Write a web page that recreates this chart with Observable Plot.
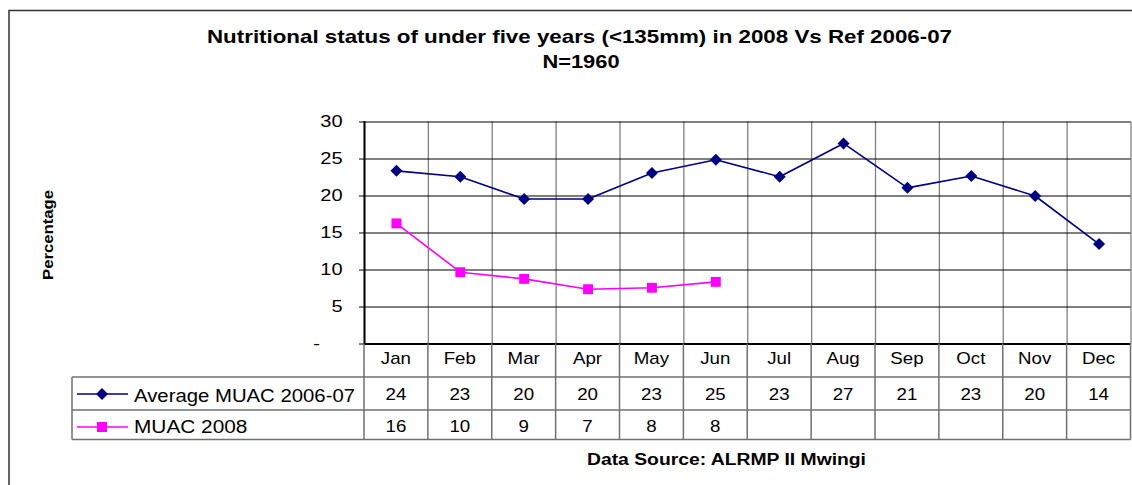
<!DOCTYPE html>
<html><head><meta charset="utf-8">
<script src="https://cdn.jsdelivr.net/npm/d3@7"></script>
<script src="https://cdn.jsdelivr.net/npm/@observablehq/plot@0.6"></script>
<style>body{margin:0;background:#fff} svg{display:block}</style>
</head><body><div id="chart"></div>
<script>
// ---- data ----
const titleText = "Nutritional status of under five years (<135mm) in 2008 Vs Ref 2006-07";
const subtitleText = "N=1960";
const yLabelText = "Percentage";
const sourceText = "Data Source: ALRMP II Mwingi";
const months = ["Jan","Feb","Mar","Apr","May","Jun","Jul","Aug","Sep","Oct","Nov","Dec"];
const avgName = "Average MUAC 2006-07";
const avgValues = [23.4, 22.6, 19.6, 19.6, 23.1, 24.9, 22.6, 27.1, 21.1, 22.7, 20.0, 13.5];
const avgTable  = [24, 23, 20, 20, 23, 25, 23, 27, 21, 23, 20, 14];
const muacName = "MUAC 2008";
const muacValues = [16.3, 9.7, 8.8, 7.4, 7.6, 8.4];
const muacTable  = [16, 10, 9, 7, 8, 8];
const yTicks = [0, 5, 10, 15, 20, 25, 30];

// ---- style ----
const NAVY = "#000080", PINK = "#FF00FF", GRID = "#808080", TBL = "#707070";
const FONT = "'Liberation Sans', Arial, sans-serif";
const W = 1132, H = 485;
const plotTop = 121.5, plotBottom = 343.5, plotLeft = 364, plotRight = 1130.5;
const rowH = 377, row1 = 410, row2 = 439.5, legLeft = 72;

const avgData = avgValues.map((v, i) => ({i, v}));
const muacData = muacValues.map((v, i) => ({i, v}));

const chart = Plot.plot({
  width: W, height: H,
  marginLeft: plotLeft, marginRight: W - plotRight, marginTop: plotTop, marginBottom: H - plotBottom,
  style: {fontFamily: FONT, fontSize: "16px", color: "#000", background: "#fff"},
  x: {type: "linear", domain: [-0.5, 11.5], axis: null},
  y: {domain: [0, 30], axis: null, label: null},
  marks: [
    Plot.ruleX(d3.range(13).map(i => i - 0.5), {y1: 0, y2: 30, stroke: GRID, strokeWidth: 1.3}),
    Plot.ruleY(yTicks.filter(d => d > 0), {stroke: "#000", strokeWidth: 1}),
    Plot.axisY(yTicks, {tickSize: 5, tickPadding: 17, tickFormat: d => d === 0 ? "" : String(d), fontSize: 16, stroke: "#000", label: null}),
    Plot.text([0], {y: d => d, frameAnchor: "left", dx: -48, text: () => "-", textAnchor: "middle", fontSize: 16}),
    Plot.ruleY([0], {stroke: "#000", strokeWidth: 2}),
    Plot.frame({anchor: "left", stroke: "#000", strokeWidth: 2}),
    Plot.line(avgData, {x: "i", y: "v", stroke: NAVY, strokeWidth: 1.6}),
    Plot.dot(avgData, {x: "i", y: "v", symbol: "diamond2", r: 5.4, fill: NAVY, stroke: "none"}),
    Plot.line(muacData, {x: "i", y: "v", stroke: PINK, strokeWidth: 1.6}),
    Plot.dot(muacData, {x: "i", y: "v", symbol: "square", r: 5.6, fill: PINK, stroke: "none"})
  ]
});
document.getElementById("chart").append(chart);

const svg = d3.select(chart);
const xs = chart.scale("x");
const X = v => xs.apply(v);
const g = svg.append("g").attr("font-family", FONT).attr("text-anchor", "start");

// outer border
g.append("rect").attr("x", 9).attr("y", 10.5).attr("width", 1300).attr("height", 700)
  .attr("fill", "none").attr("stroke", "#333").attr("stroke-width", 1.5);

const stretch = (el, k) => { const L = el.getComputedTextLength(); el.setAttribute("textLength", L * k); el.setAttribute("lengthAdjust", "spacingAndGlyphs"); };
const fitTo = (el, w) => { el.setAttribute("textLength", w); el.setAttribute("lengthAdjust", "spacingAndGlyphs"); };

// title
fitTo(g.append("text").attr("x", 579.5).attr("y", 42.7).attr("text-anchor", "middle")
  .attr("font-weight", "bold").attr("font-size", 18.5).text(titleText).node(), 745);
stretch(g.append("text").attr("x", 581).attr("y", 68).attr("text-anchor", "middle")
  .attr("font-weight", "bold").attr("font-size", 18.5).text(subtitleText).node(), 1.18);

// y label
fitTo(g.append("text").attr("transform", "translate(53,235) rotate(-90)").attr("text-anchor", "middle")
  .attr("font-weight", "bold").attr("font-size", 15).text(yLabelText).node(), 90);

// data table lines
const bounds = d3.range(13).map(i => X(i - 0.5));
bounds.forEach(b => g.append("line").attr("x1", b).attr("x2", b).attr("y1", plotBottom).attr("y2", row2)
  .attr("stroke", TBL).attr("stroke-width", 1.5));
[rowH, row1, row2].forEach(y => g.append("line").attr("x1", legLeft).attr("x2", plotRight).attr("y1", y).attr("y2", y)
  .attr("stroke", TBL).attr("stroke-width", 1.5));
g.append("line").attr("x1", legLeft).attr("x2", legLeft).attr("y1", rowH).attr("y2", row2)
  .attr("stroke", TBL).attr("stroke-width", 1.5);

// month labels and values
const cellText = (x, y, t) => {
  const el = g.append("text").attr("x", x).attr("y", y).attr("text-anchor", "middle").attr("font-size", 17).text(t).node();
  stretch(el, 1.1);
};
months.forEach((m, i) => cellText(X(i), 364, m));
avgTable.forEach((v, i) => cellText(X(i), 400, v));
muacTable.forEach((v, i) => cellText(X(i), 431.5, v));

// legend keys
const key = (y, color, sym) => {
  g.append("line").attr("x1", 77).attr("x2", 128).attr("y1", y).attr("y2", y).attr("stroke", color).attr("stroke-width", 1.6);
  if (sym === "diamond") g.append("path").attr("d", `M102,${y - 6}L108,${y}L102,${y + 6}L96,${y}Z`).attr("fill", color);
  else g.append("rect").attr("x", 97).attr("y", y - 5).attr("width", 10).attr("height", 10).attr("fill", color);
};
key(394, NAVY, "diamond");
key(427, PINK, "square");
fitTo(g.append("text").attr("x", 134).attr("y", 401.5).attr("text-anchor", "start").attr("font-size", 17.5).text(avgName).node(), 221);
stretch(g.append("text").attr("x", 134).attr("y", 432.5).attr("text-anchor", "start").attr("font-size", 17.5).text(muacName).node(), 1.19);

// source
fitTo(g.append("text").attr("x", 587).attr("y", 465).attr("text-anchor", "start").attr("font-weight", "bold").attr("font-size", 16).text(sourceText).node(), 279);

// stretch y tick labels
svg.selectAll("g[aria-label='y-axis tick label'] text, g[aria-label='text'] text").each(function() { stretch(this, 1.25); });
</script></body></html>
